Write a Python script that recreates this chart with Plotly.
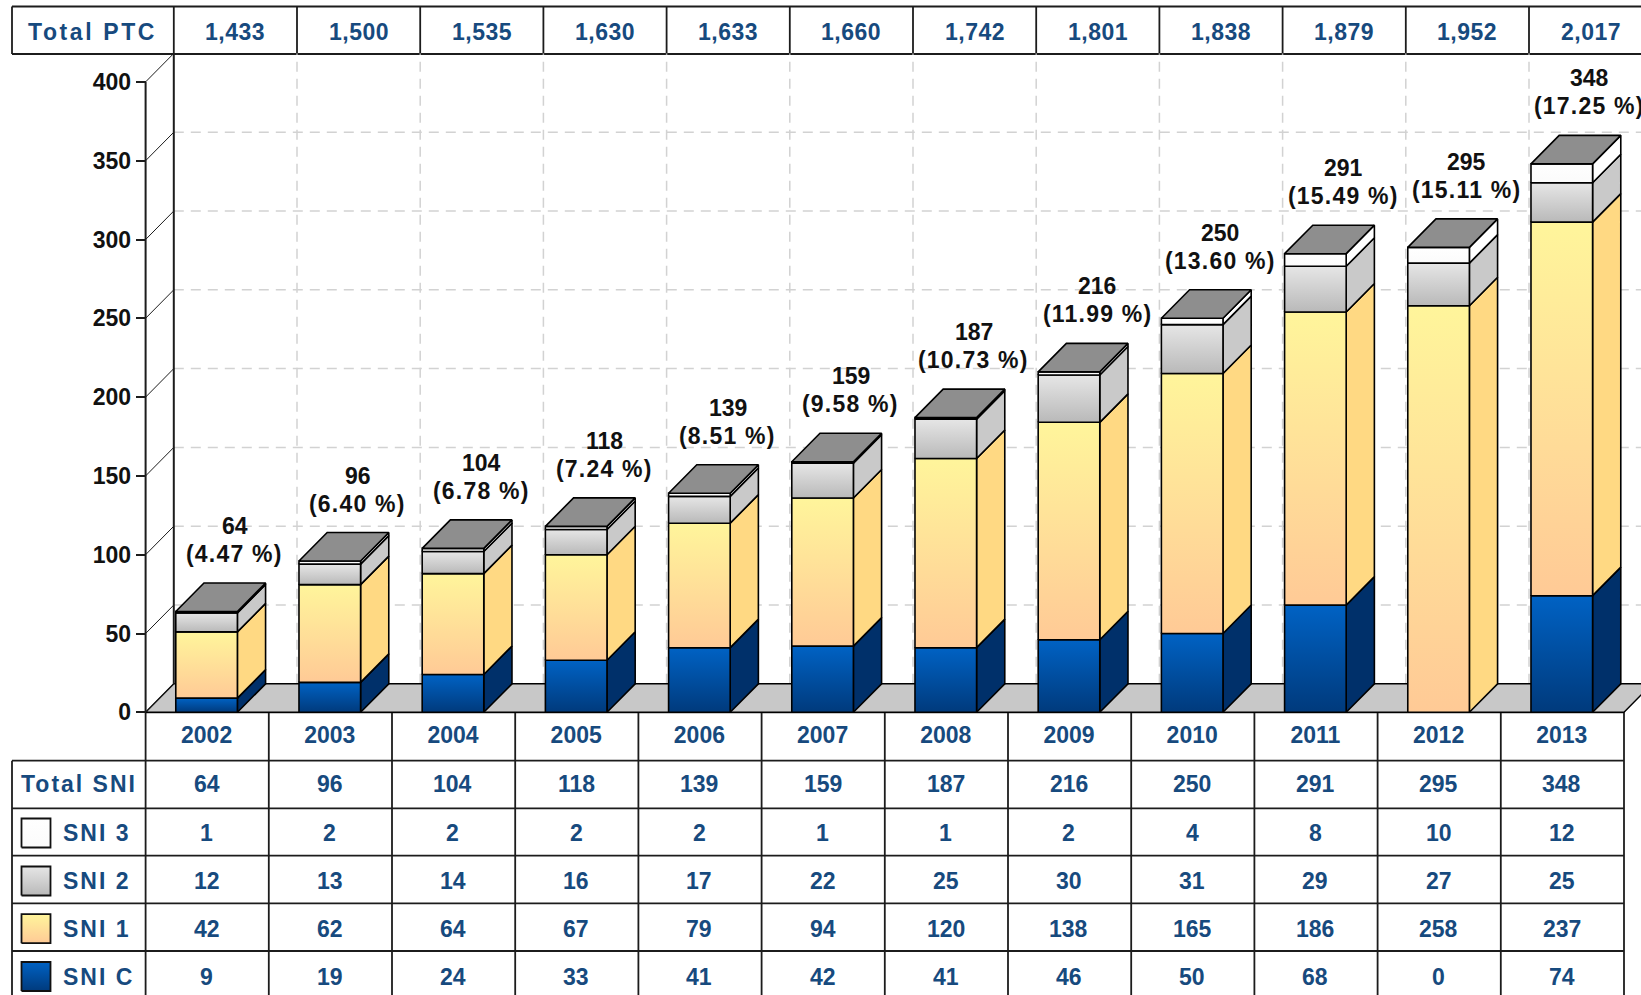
import plotly.graph_objects as go

years = [2002, 2003, 2004, 2005, 2006, 2007, 2008, 2009, 2010, 2011, 2012, 2013]
total_ptc = [1433, 1500, 1535, 1630, 1633, 1660, 1742, 1801, 1838, 1879, 1952, 2017]
total_sni = [64, 96, 104, 118, 139, 159, 187, 216, 250, 291, 295, 348]
pct_sni = ["4.47", "6.40", "6.78", "7.24", "8.51", "9.58", "10.73", "11.99", "13.60", "15.49", "15.11", "17.25"]
sni_3 = [1, 2, 2, 2, 2, 1, 1, 2, 4, 8, 10, 12]
sni_2 = [12, 13, 14, 16, 17, 22, 25, 30, 31, 29, 27, 25]
sni_1 = [42, 62, 64, 67, 79, 94, 120, 138, 165, 186, 258, 237]
sni_c = [9, 19, 24, 33, 41, 42, 41, 46, 50, 68, 0, 74]
y_ticks = [0, 50, 100, 150, 200, 250, 300, 350, 400]

# stack order bottom -> top: name, values, front gradient (top, bottom), side colour
stack = [
    ("SNI C", sni_c, "#0062c4", "#003a7c", "#00306a"),
    ("SNI 1", sni_1, "#fff59b", "#ffca96", "#ffd983"),
    ("SNI 2", sni_2, "#e6e6e6", "#b9b9b9", "#c9c9c9"),
    ("SNI 3", sni_3, "#ffffff", "#fbfbfb", "#ffffff"),
]

W, H = 1641, 995
X0_PX, CELL_PX = 145.6, 123.2
Y0_PX, UNIT_PX = 712.3, 1.576
DX = 28.2 / CELL_PX
DY = 28.5 / UNIT_PX
BAR_L, BAR_W = 0.245, 0.5
INK = "#1c1c1c"
BLUE = "#174a7e"
GRID = "#d2d2d2"
FONT = "Liberation Sans"
FS = 23
XMAX = (W - X0_PX) / CELL_PX
XMIN = -X0_PX / CELL_PX
YMAX = Y0_PX / UNIT_PX
YMIN = (Y0_PX - H) / UNIT_PX
n = len(years)


def py(px):
    return 1 - px / H


def sp(text, px):
    return f'<span style="letter-spacing:{px}px"><b>{text}</b></span>'


fig = go.Figure()


def poly(xs, ys, fill=None, grad=None, lw=1.6):
    kw = dict(fillcolor=fill) if fill else dict(fillgradient=grad)
    fig.add_trace(go.Scatter(x=xs, y=ys, mode="lines", fill="toself",
                             line=dict(color="#000000", width=lw),
                             hoverinfo="skip", showlegend=False, **kw))


def stroke(xs, ys, color=INK, width=1.0, dash=None):
    fig.add_trace(go.Scatter(x=xs, y=ys, mode="lines",
                             line=dict(color=color, width=width, dash=dash),
                             hoverinfo="skip", showlegend=False))


# back wall grid
for t in y_ticks[1:-1]:
    stroke([DX, XMAX], [t + DY, t + DY], GRID, 1.5, "10px,7px")
for k in range(1, n + 1):
    stroke([DX + k, DX + k], [DY, 400 + DY], GRID, 1.5, "10px,7px")

# floor
poly([0, DX, n + DX, n, 0], [0, DY, DY, 0, 0], fill="#c8c8c8", lw=1.4)

# axis lines and ticks' diagonals
stroke([DX, DX], [0 + DY, 400 + DY], INK, 2)
stroke([0, 0], [0, 400], INK, 2)
for t in y_ticks:
    stroke([0, DX], [t, t + DY], INK, 1)

# bars
for i in range(n):
    l, r = i + BAR_L, i + BAR_L + BAR_W
    base = 0
    for name, vals, top_c, bot_c, side in stack:
        v = vals[i]
        if v == 0:
            continue
        t = base + v
        poly([r, r + DX, r + DX, r, r], [base, base + DY, t + DY, t, base], fill=side)
        poly([l, r, r, l, l], [base, base, t, t, base],
             grad=dict(type="vertical", colorscale=[[0, bot_c], [1, top_c]]))
        base = t
    poly([l, r, r + DX, l + DX, l], [base, base, base + DY, base + DY, base], fill="#8e8e8e")

# table lines (x in cell units through the axis, rows on the page)
shapes = []


def hline(px, x0, x1, width=1.8):
    shapes.append(dict(type="line", xref="x", yref="paper", x0=x0, x1=x1, y0=py(px), y1=py(px),
                       line=dict(color=INK, width=width), layer="below"))


def vline(x, p0, p1, width=1.8):
    shapes.append(dict(type="line", xref="x", yref="paper", x0=x, x1=x, y0=py(p0), y1=py(p1),
                       line=dict(color=INK, width=width), layer="below"))


LEFT = (12 - X0_PX) / CELL_PX
for p in (6.5, 54):
    hline(p, LEFT, XMAX)
vline(LEFT, 6.5, 54)
for k in range(n + 1):
    vline(DX + k, 6.5, 54)

ROWS = [760.7, 808.3, 855.7, 903.3, 951.0]
hline(712.3, 0, n)
for p in ROWS:
    hline(p, LEFT, n)
vline(LEFT, ROWS[0], H)
vline(0, 712.3, H)
for k in range(1, n + 1):
    vline(k, 712.3, H)

# text
ann = []


def label(x, px, text, color=BLUE, anchor="center", xref="x"):
    ann.append(dict(x=x, y=py(px), xref=xref, yref="paper", text=text, showarrow=False,
                    xanchor=anchor, yanchor="middle",
                    font=dict(family=FONT, size=FS, color=color)))


label((LEFT + DX) / 2, 31.7, sp("Total PTC", 2.6))
for i in range(n):
    label(i + 0.5 + DX, 31.7, sp(f"{total_ptc[i]:,}", 0.5))

label((LEFT) / 2 + 0.005, 783.5, sp("Total SNI", 2.0))
rows_px = {"SNI 3": 833, "SNI 2": 881, "SNI 1": 928.7, "SNI C": 976.5}
for i in range(n):
    label(i + 0.495, 783.5, sp(total_sni[i], 0))
SW_L, SW_R = (21.5 - X0_PX) / CELL_PX, (50.5 - X0_PX) / CELL_PX
for name, vals, top_c, bot_c, side in stack:
    p = rows_px[name]
    yy = [py(p + 14.5), py(p + 14.5), py(p - 14.5), py(p - 14.5), py(p + 14.5)]
    fig.add_trace(go.Scatter(x=[SW_L, SW_R, SW_R, SW_L, SW_L], y=yy, yaxis="y2", mode="lines",
                             fill="toself", line=dict(color="#111111", width=1.8),
                             fillgradient=dict(type="vertical", colorscale=[[0, bot_c], [1, top_c]]),
                             hoverinfo="skip", showlegend=False))
    label((60.8 - X0_PX) / CELL_PX, p, sp(name, 2.0), anchor="left")
    for i in range(n):
        label(i + 0.495, p, sp(vals[i], 0))

# labels above the bars, tied to the bar top through the axis
for i in range(n):
    xc = i + BAR_L + BAR_W / 2 + DX
    ann.append(dict(x=xc, y=total_sni[i] + DY, xref="x", yref="y",
                    text=sp(f"({pct_sni[i]} %)", 1.2),
                    showarrow=False, xanchor="center", yanchor="bottom", yshift=14,
                    font=dict(family=FONT, size=FS, color="#111111")))
    ann.append(dict(x=xc, y=total_sni[i] + DY, xref="x", yref="y",
                    text=sp(total_sni[i], 0),
                    showarrow=False, xanchor="center", yanchor="bottom", yshift=42,
                    font=dict(family=FONT, size=FS, color="#111111")))

fig.update_layout(
    width=W, height=H, autosize=False, showlegend=False,
    margin=dict(l=0, r=0, t=0, b=0, pad=0),
    paper_bgcolor="#ffffff", plot_bgcolor="#ffffff",
    shapes=shapes, annotations=ann,
    xaxis=dict(domain=[0, 1], range=[XMIN, XMAX], anchor="free", position=py(Y0_PX),
               tickmode="array", tickvals=[i + 0.495 for i in range(n)],
               ticktext=[f"<b>{y}</b>" for y in years],
               ticks="outside", ticklen=2, tickcolor="rgba(0,0,0,0)",
               tickfont=dict(family=FONT, size=FS, color=BLUE),
               showgrid=False, zeroline=False, showline=False),
    yaxis=dict(domain=[0, 1], range=[YMIN, YMAX], anchor="free", position=X0_PX / W,
               tickmode="array", tickvals=y_ticks, ticktext=[f"<b>{t}</b>" for t in y_ticks],
               ticks="outside", ticklen=10, tickwidth=1.5, tickcolor=INK,
               tickfont=dict(family=FONT, size=FS, color="#111111"),
               showgrid=False, zeroline=False, showline=False),
    yaxis2=dict(domain=[0, 1], range=[0, 1], overlaying="y", visible=False, anchor="x"),
)

fig.write_html("out.html", config={"displayModeBar": False},
               post_script="document.documentElement.style.overflow='hidden';"
                           "document.body.style.overflow='hidden';"
                           "document.body.style.margin='0';")
